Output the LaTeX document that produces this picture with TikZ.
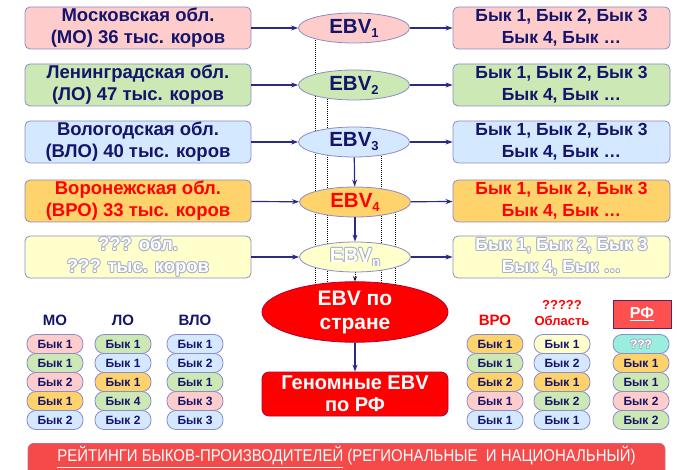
\documentclass[tikz,border=0pt]{standalone}
\usepackage{fontspec}
\setmainfont{Liberation Sans}
\usetikzlibrary{arrows.meta,shapes.geometric,backgrounds,calc}
\definecolor{navy}{HTML}{14146B}
\definecolor{arrowc}{HTML}{2B2B85}
\definecolor{bordc}{HTML}{8C8CC8}
\definecolor{cpink}{HTML}{FFCCCC}
\definecolor{cgreen}{HTML}{CCE8B4}
\definecolor{cblue}{HTML}{D4E8FF}
\definecolor{corange}{HTML}{FFD36B}
\definecolor{cyellow}{HTML}{FFFFCC}
\definecolor{ccyan}{HTML}{99EEDD}
\definecolor{cred}{HTML}{FF0000}
\definecolor{credd}{HTML}{B00030}
\definecolor{cbar}{HTML}{F54A4A}
\definecolor{crf}{HTML}{FF5050}
\definecolor{crfb}{HTML}{602060}
\definecolor{haloc}{HTML}{A8B0C8}
\newcommand{\fbig}{\fontsize{18.5}{22}\selectfont\bfseries}
\newcommand{\fright}{\fontsize{17.5}{22}\selectfont\bfseries}
\newcommand{\febv}{\fontsize{20.5}{22}\selectfont\bfseries}
\newcommand{\fpill}{\fontsize{12}{13}\selectfont\bfseries}
\newcommand{\fsub}[1]{\raisebox{-4pt}{\fontsize{13}{13}\selectfont #1}}
\newcommand{\halonode}[3]{%
  \foreach \ang in {0,60,...,300}{\node[text=haloc,font=#2,align=center] at ($(#1)+(\ang:1pt)$) {#3};}%
  \node[text=white,font=#2,align=center] at (#1) {#3};}
\newcommand{\pillcol}[3]{%
  \foreach \c/\t [count=\i] in {#3}{\node[pill, fill=\c] (#1\i) at (#2, 325+19*\i) {\t};}}
\begin{document}
\begin{tikzpicture}[x=1pt,y=-1pt,
  regbox/.style={draw=bordc, line width=0.8pt, rounded corners=5pt, minimum height=42pt, align=center, text=navy, inner sep=0pt},
  lbox/.style={regbox, minimum width=226pt, font=\fbig},
  rbox/.style={regbox, minimum width=217pt, font=\fright},
  ebv/.style={ellipse, draw=bordc, line width=0.8pt, minimum width=111pt, minimum height=30pt, inner sep=0pt, font=\febv, text=navy},
  pill/.style={draw=bordc, line width=0.8pt, rounded corners=9pt, minimum width=56pt, minimum height=19pt, inner sep=0pt, font=\fpill, text=navy},
  flow/.style={draw=arrowc, line width=1.2pt, -{Stealth[length=7pt,width=5pt]}},
  dflow/.style={draw=black, line width=1pt, dash pattern=on 1pt off 1pt, -{Stealth[length=5pt,width=4pt]}},
  lab/.style={font=\fontsize{15}{16}\selectfont\bfseries, text=navy}]
\useasboundingbox (0,0) rectangle (677,470);
\clip (0,0) rectangle (677,470);
% left boxes
\node[lbox, fill=cpink] (l1) at (138,28) {Московская обл.\\(МО) 36 тыс. коров};
\node[lbox, fill=cgreen] (l2) at (138,85) {Ленинградская обл.\\(ЛО) 47 тыс. коров};
\node[lbox, fill=cblue] (l3) at (138,142) {Вологодская обл.\\(ВЛО) 40 тыс. коров};
\node[lbox, fill=corange, text=red] (l4) at (138,201) {Воронежская обл.\\(ВРО) 33 тыс. коров};
\node[lbox, fill=cyellow] (l5) at (138,257) {};
\halonode{l5.center}{\fbig}{??? обл.\\??? тыс. коров}
% ellipses
\node[ebv, fill=cpink] (e1) at (354,28) {EBV\fsub{1}};
\node[ebv, fill=cgreen] (e2) at (354,85) {EBV\fsub{2}};
\node[ebv, fill=cblue] (e3) at (354,142) {EBV\fsub{3}};
\node[ebv, fill=corange, text=red] (e4) at (355,202) {EBV\fsub{4}};
\node[ebv, fill=cyellow] (e5) at (355,257) {};
\halonode{e5.center}{\febv}{EBV\fsub{n}}
% right boxes
\node[rbox, fill=cpink] (r1) at (561.5,28) {Бык 1, Бык 2, Бык 3\\Бык 4, Бык \dots};
\node[rbox, fill=cgreen] (r2) at (561.5,85) {Бык 1, Бык 2, Бык 3\\Бык 4, Бык \dots};
\node[rbox, fill=cblue] (r3) at (561.5,142) {Бык 1, Бык 2, Бык 3\\Бык 4, Бык \dots};
\node[rbox, fill=corange, text=red] (r4) at (561.5,201) {Бык 1, Бык 2, Бык 3\\Бык 4, Бык \dots};
\node[rbox, fill=cyellow] (r5) at (561.5,257) {};
\halonode{r5.center}{\fright}{Бык 1, Бык 2, Бык 3\\Бык 4, Бык \dots}
% horizontal arrows
\foreach \i in {1,...,5}{
  \draw[flow] (l\i) -- (e\i);
  \draw[flow] (e\i) -- (r\i);
}
% country
\node[ellipse, fill=cred, draw=credd, line width=0.8pt, minimum width=186pt, minimum height=45pt, inner sep=0pt, align=center, text=white, font=\fontsize{21}{24}\selectfont\bfseries] (ctry) at (355,312) {EBV по\\стране};
\node[fill=cred, draw=credd, line width=0.8pt, rounded corners=7pt, minimum width=186pt, minimum height=44pt, inner sep=0pt, align=center, text=white, font=\fontsize{20}{22}\selectfont\bfseries] (gen) at (355,394) {Геномные EBV\\по РФ};
\draw[flow] (ctry) -- (gen);
\draw[flow] (e3) -- (e4);
\draw[flow] (e4) -- (e5);
% dotted arrows
\coordinate (d1) at (315,291.5);
\coordinate (d2) at (327,290.5);
\coordinate (d3) at (381,290.5);
\coordinate (d4) at (395,291.5);
\begin{scope}[on background layer]
\draw[dflow] (e1 -| d1) -- (d1);
\draw[dflow] (e2 -| d2) -- (d2);
\draw[dflow] (e3 -| d3) -- (d3);
\draw[dflow] (e4 -| d4) -- (d4);
\draw[dflow] (e5) -- (ctry);
\end{scope}
% column labels
\node[lab] (hmo) at (55,320) {МО};
\node[lab] (hlo) at (123,320) {ЛО};
\node[lab] (hvlo) at (195,320) {ВЛО};
\node[lab, text=red] (hvro) at (495,320) {ВРО};
\node[lab, text=red, font=\fontsize{13}{16}\selectfont\bfseries, align=center] (hq) at (562,313) {?????\\Область};
\node[fill=crf, draw=crfb, line width=0.8pt, minimum width=58pt, minimum height=28pt, inner sep=0pt, text=white, font=\fontsize{16}{18}\selectfont\bfseries] (hrf) at (642,314) {\underline{РФ}};
% pills
\pillcol{mo}{55}{cpink/Бык 1,cgreen/Бык 1,cpink/Бык 2,corange/Бык 1,cblue/Бык 2}
\pillcol{lo}{123}{cgreen/Бык 1,cblue/Бык 1,corange/Бык 1,cgreen/Бык 4,cblue/Бык 2}
\pillcol{vlo}{195}{cblue/Бык 1,cblue/Бык 2,cgreen/Бык 1,cpink/Бык 3,cblue/Бык 3}
\pillcol{vro}{495}{corange/Бык 1,cgreen/Бык 1,corange/Бык 2,cpink/Бык 1,cblue/Бык 1}
\pillcol{qq}{562}{cyellow/Бык 1,cblue/Бык 2,corange/Бык 1,cgreen/Бык 2,cblue/Бык 1}
\pillcol{rf}{641}{ccyan/{},corange/Бык 1,cgreen/Бык 1,cpink/Бык 2,cgreen/Бык 2}
\halonode{rf1.center}{\fpill}{???}
% bottom bar
\node[fill=cbar, draw=credd!60, line width=0.8pt, rounded corners=6pt, minimum width=637pt, minimum height=34pt, inner sep=0pt, text=white, anchor=north] (bar) at (346.5,443) {};
\node[text=white, font=\fontsize{17}{20}\selectfont] (bart) at (346.5,457) {\scalebox{0.88}[1]{\underline{РЕЙТИНГИ БЫКОВ-ПРОИЗВОДИТЕЛЕЙ} (РЕГИОНАЛЬНЫЕ\ \ И НАЦИОНАЛЬНЫЙ)}};
\end{tikzpicture}
\end{document}
